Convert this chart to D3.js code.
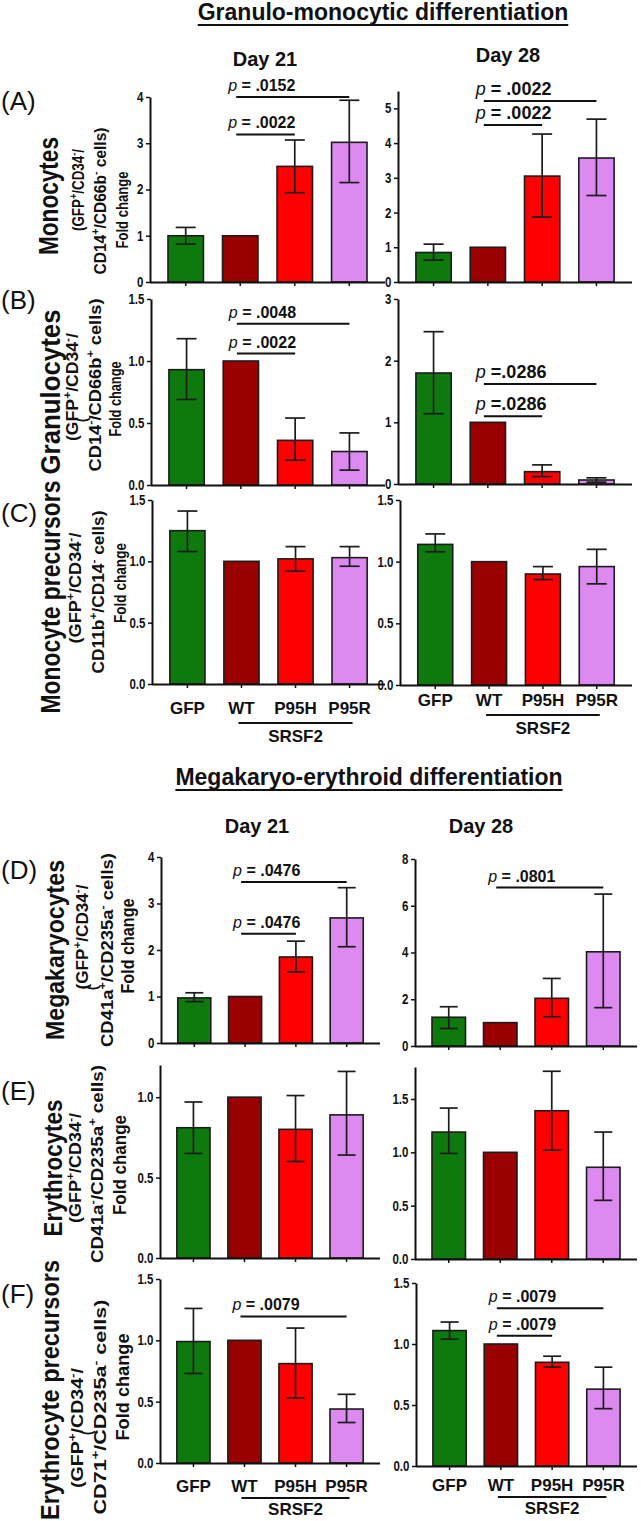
<!DOCTYPE html>
<html><head><meta charset="utf-8">
<script src="https://cdn.jsdelivr.net/npm/d3@7"></script>
<style>
html,body{margin:0;padding:0;background:#fff;}
svg{display:block;}
text{font-family:"Liberation Sans",Arial,Helvetica,sans-serif;fill:#111;}
</style></head><body>
<svg id="chart" width="641" height="1521"></svg>
<script>
// ---------- data ----------
const categories = ["GFP", "WT", "P95H", "P95R"];
const barColors = ["#0e7a0e", "#9b0000", "#ff0000", "#dc8af0"];
const groupLabel = "SRSF2";
const groupMembers = ["WT", "P95R"];
const sectionTitles = ["Granulo-monocytic differentiation", "Megakaryo-erythroid differentiation"];
const dayLabels = ["Day 21", "Day 28"];
const panelLetters = ["(A)", "(B)", "(C)", "(D)", "(E)", "(F)"];

// (A) Monocytes
const monoD21Mean = [1.00, 1.00, 2.50, 3.02];
const monoD21Lo   = [0.82, null, 1.93, 2.15];
const monoD21Hi   = [1.18, null, 3.07, 3.93];
const monoD28Mean = [0.85, 1.00, 3.05, 3.57];
const monoD28Lo   = [0.63, null, 1.87, 2.49];
const monoD28Hi   = [1.09, null, 4.26, 4.69];
// (B) Granulocytes
const granD21Mean = [0.93, 1.00, 0.36, 0.27];
const granD21Lo   = [0.69, null, 0.20, 0.12];
const granD21Hi   = [1.18, null, 0.54, 0.42];
const granD28Mean = [1.80, 1.00, 0.20, 0.065];
const granD28Lo   = [1.14, null, 0.12, 0.03];
const granD28Hi   = [2.47, null, 0.31, 0.10];
// (C) Monocyte precursors
const monoPreD21Mean = [1.25, 1.00, 1.02, 1.03];
const monoPreD21Lo   = [1.08, null, 0.92, 0.96];
const monoPreD21Hi   = [1.41, null, 1.12, 1.12];
const monoPreD28Mean = [1.14, 1.00, 0.90, 0.96];
const monoPreD28Lo   = [1.08, null, 0.855, 0.82];
const monoPreD28Hi   = [1.225, null, 0.96, 1.10];
// (D) Megakaryocytes
const megaD21Mean = [0.97, 1.00, 1.85, 2.69];
const megaD21Lo   = [0.89, null, 1.53, 2.07];
const megaD21Hi   = [1.08, null, 2.19, 3.34];
const megaD28Mean = [1.23, 1.00, 2.04, 4.03];
const megaD28Lo   = [0.75, null, 1.25, 1.64];
const megaD28Hi   = [1.68, null, 2.89, 6.50];
// (E) Erythrocytes
const eryD21Mean = [0.81, 1.00, 0.80, 0.89];
const eryD21Lo   = [0.65, null, 0.60, 0.64];
const eryD21Hi   = [0.97, null, 1.01, 1.16];
const eryD28Mean = [1.19, 1.00, 1.39, 0.86];
const eryD28Lo   = [0.99, null, 1.02, 0.55];
const eryD28Hi   = [1.415, null, 1.76, 1.19];
// (F) Erythrocyte precursors
const eryPreD21Mean = [0.99, 1.00, 0.81, 0.44];
const eryPreD21Lo   = [0.73, null, 0.53, 0.33];
const eryPreD21Hi   = [1.26, null, 1.10, 0.56];
const eryPreD28Mean = [1.11, 1.00, 0.85, 0.63];
const eryPreD28Lo   = [1.04, null, 0.81, 0.47];
const eryPreD28Hi   = [1.18, null, 0.90, 0.81];

// y-axis ticks
const ticksInt4 = [0, 1, 2, 3, 4];
const ticksInt5 = [0, 1, 2, 3, 4, 5];
const ticksInt3 = [0, 1, 2, 3];
const ticksHalf15 = [0, 0.5, 1.0, 1.5];
const ticksHalf10 = [0, 0.5, 1.0];
const ticksEven8 = [0, 2, 4, 6, 8];

// p-value annotations: [from, to, height (data units), text]
const monoD21P = [["WT", "P95R", 4.00, " = .0152"], ["WT", "P95H", 3.19, " = .0022"]];
const monoD28P = [["WT", "P95R", 5.21, " = .0022"], ["WT", "P95H", 4.52, " = .0022"]];
const granD21P = [["WT", "P95R", 1.30, " = .0048"], ["WT", "P95H", 1.06, " = .0022"]];
const granD28P = [["WT", "P95R", 1.62, " =.0286"], ["WT", "P95H", 1.10, " =.0286"]];
const megaD21P = [["WT", "P95R", 3.46, " = .0476"], ["WT", "P95H", 2.35, " = .0476"]];
const megaD28P = [["WT", "P95R", 6.78, " = .0801"]];
const eryPreD21P = [["WT", "P95R", 1.195, " = .0079"]];
const eryPreD28P = [["WT", "P95R", 1.294, " = .0079"], ["WT", "P95H", 1.067, " = .0079"]];

// y-axis title lines per row
const yTitles = [
  ["Monocytes", "(GFP^{+}/CD34^{-}/", "CD14^{+}/CD66b^{-} cells)", "Fold change"],
  ["Granulocytes", "(GFP^{+}/CD34^{-}/", "(", "CD14^{-}/CD66b^{+} cells)", "Fold change"],
  ["Monocyte precursors", "(GFP^{+}/CD34^{-}/", "CD11b^{+}/CD14^{-} cells)", "Fold change"],
  ["Megakaryocytes", "(GFP^{+}/CD34^{-}/", "(", "CD41a^{+}/CD235a^{-} cells)", "Fold change"],
  ["Erythrocytes", "(GFP^{+}/CD34^{-}/", "CD41a^{-}/CD235a^{+} cells)", "Fold change"],
  ["Erythrocyte precursors", "(GFP^{+}/CD34^{-}/", "(", "CD71^{+}/CD235a^{-} cells)", "Fold change"]
];

// ---------- layout ----------
const svg = d3.select("#chart");

const panels = [
  {mean: monoD21Mean, lo: monoD21Lo, hi: monoD21Hi, max: 4, ticks: ticksInt4, fmt: "d", p: monoD21P,
   x0: 150, x1: 385, y0: 282, y1: 97, pfs: 16, cap: 20},
  {mean: monoD28Mean, lo: monoD28Lo, hi: monoD28Hi, max: 5.5, ticks: ticksInt5, fmt: "d", p: monoD28P,
   x0: 398, x1: 632, y0: 282, y1: 91, pfs: 18, cap: 20},
  {mean: granD21Mean, lo: granD21Lo, hi: granD21Hi, max: 1.5, ticks: ticksHalf15, fmt: ".1f", p: granD21P,
   x0: 151, x1: 385, y0: 485, y1: 299, pfs: 16, cap: 20},
  {mean: granD28Mean, lo: granD28Lo, hi: granD28Hi, max: 3, ticks: ticksInt3, fmt: "d", p: granD28P,
   x0: 398, x1: 632, y0: 484, y1: 299, pfs: 18, cap: 20},
  {mean: monoPreD21Mean, lo: monoPreD21Lo, hi: monoPreD21Hi, max: 1.5, ticks: ticksHalf15, fmt: ".1f", p: [],
   x0: 152, x1: 385, y0: 684, y1: 500, pfs: 16, cap: 20, labels: {pad: 14, line: 39, text: 58}},
  {mean: monoPreD28Mean, lo: monoPreD28Lo, hi: monoPreD28Hi, max: 1.5, ticks: ticksHalf15, fmt: ".1f", p: [],
   x0: 400, x1: 632, y0: 685, y1: 500, pfs: 16, cap: 20, labels: {pad: 5, line: 30, text: 49}},
  {mean: megaD21Mean, lo: megaD21Lo, hi: megaD21Hi, max: 4, ticks: ticksInt4, fmt: "d", p: megaD21P,
   x0: 161, x1: 380, y0: 1043, y1: 857, pfs: 16, cap: 18},
  {mean: megaD28Mean, lo: megaD28Lo, hi: megaD28Hi, max: 8, ticks: ticksEven8, fmt: "d", p: megaD28P,
   x0: 415, x1: 637, y0: 1046, y1: 859, pfs: 16, cap: 18},
  {mean: eryD21Mean, lo: eryD21Lo, hi: eryD21Hi, max: 1.2, ticks: ticksHalf10, fmt: ".1f", p: [],
   x0: 160, x1: 380, y0: 1258, y1: 1065, pfs: 16, cap: 18},
  {mean: eryD28Mean, lo: eryD28Lo, hi: eryD28Hi, max: 1.8, ticks: ticksHalf15, fmt: ".1f", p: [],
   x0: 415, x1: 637, y0: 1259, y1: 1067, pfs: 16, cap: 18},
  {mean: eryPreD21Mean, lo: eryPreD21Lo, hi: eryPreD21Hi, max: 1.5, ticks: ticksHalf15, fmt: ".1f", p: eryPreD21P,
   x0: 160, x1: 380, y0: 1463, y1: 1279, pfs: 16, cap: 18, labels: {pad: 13, line: 35, text: 52}},
  {mean: eryPreD28Mean, lo: eryPreD28Lo, hi: eryPreD28Hi, max: 1.5, ticks: ticksHalf15, fmt: ".1f", p: eryPreD28P,
   x0: 416, x1: 637, y0: 1466, y1: 1283, pfs: 16, cap: 18, labels: {pad: 9, line: 31, text: 48}}
];

// rotated title line positions: [x center, y center, font size, length]
const yTitleLayout = [
  [[48, 196, 28, 118], [78, 190, 17, 82], [100, 201, 17, 147], [122, 210, 17, 77]],
  [[50, 392, 27, 165], [72, 387, 17, 108], [82, 420, 14, 0], [95, 385, 17, 173], [115, 399, 17, 75]],
  [[50, 597, 28, 233], [75, 588, 17, 111], [98, 592, 17, 163], [120, 583, 17, 80]],
  [[55, 950, 26, 180], [82, 937, 17, 105], [92, 988, 14, 0], [107, 950, 17, 194], [128, 946, 18, 95]],
  [[53, 1168, 26, 137], [75, 1168, 17, 110], [97, 1164, 17, 198], [120, 1165, 18, 100]],
  [[50, 1390, 26, 260], [77, 1428, 17, 120], [87, 1433, 14, 0], [100, 1407, 17, 215], [123, 1387, 18, 107]]
];

function addRich(sel, str, fs) {
  const re = /\^\{([^}]*)\}/g;
  let last = 0, m; const segs = [];
  while ((m = re.exec(str))) {
    if (m.index > last) segs.push({t: str.slice(last, m.index)});
    segs.push({t: m[1], sup: true});
    last = re.lastIndex;
  }
  if (last < str.length) segs.push({t: str.slice(last)});
  segs.forEach((s, i) => {
    const ts = sel.append("tspan").text(s.t);
    if (s.sup) ts.attr("font-size", fs * 0.68).attr("dy", -fs * 0.42);
    else if (i > 0 && segs[i - 1].sup) ts.attr("dy", fs * 0.42);
  });
}

function drawPanel(cfg) {
  const x = d3.scaleBand().domain(categories).range([cfg.x0, cfg.x1]).paddingInner(0.35).paddingOuter(0.33);
  const y = d3.scaleLinear().domain([0, cfg.max]).range([cfg.y0, cfg.y1]);
  const bw = x.bandwidth();
  const cx = d => x(d) + bw / 2;
  const g = svg.append("g");

  g.selectAll("rect.bar").data(categories).join("rect").attr("class", "bar")
    .attr("x", d => x(d)).attr("width", bw)
    .attr("y", (d, i) => y(cfg.mean[i]))
    .attr("height", (d, i) => y(0) - y(cfg.mean[i]))
    .attr("fill", (d, i) => barColors[i])
    .attr("stroke", "#1c1c1c").attr("stroke-width", 1.6);

  const errs = categories.map((d, i) => ({d, lo: cfg.lo[i], hi: cfg.hi[i]})).filter(e => e.lo != null);
  const eg = g.append("g").attr("stroke", "#1c1c1c").attr("stroke-width", 1.7);
  eg.selectAll("line.v").data(errs).join("line")
    .attr("x1", e => cx(e.d)).attr("x2", e => cx(e.d)).attr("y1", e => y(e.lo)).attr("y2", e => y(e.hi));
  eg.selectAll("line.t").data(errs).join("line")
    .attr("x1", e => cx(e.d) - cfg.cap / 2).attr("x2", e => cx(e.d) + cfg.cap / 2)
    .attr("y1", e => y(e.hi)).attr("y2", e => y(e.hi));
  eg.selectAll("line.b").data(errs).join("line")
    .attr("x1", e => cx(e.d) - cfg.cap / 2).attr("x2", e => cx(e.d) + cfg.cap / 2)
    .attr("y1", e => y(e.lo)).attr("y2", e => y(e.lo));

  // y axis
  const ya = g.append("g").attr("transform", `translate(${cfg.x0},0)`)
    .call(d3.axisLeft(y).tickValues(cfg.ticks).tickFormat(d3.format(cfg.fmt)).tickSize(4).tickSizeOuter(0).tickPadding(4));
  ya.select(".domain").attr("stroke", "#111").attr("stroke-width", 2);
  ya.selectAll(".tick line").attr("stroke", "#111").attr("stroke-width", 1.5);
  ya.selectAll(".tick text").attr("font-size", 14).attr("font-weight", "bold")
    .attr("transform", "scale(0.82,1)")
    .attr("font-family", "'Liberation Sans',Arial,sans-serif").attr("fill", "#111");

  // x axis
  const lab = cfg.labels;
  const xa = g.append("g").attr("transform", `translate(0,${cfg.y0})`)
    .call(d3.axisBottom(x).tickSize(4).tickSizeOuter(0).tickPadding(lab ? lab.pad : 3).tickFormat(lab ? (d => d) : () => ""));
  xa.select(".domain").attr("stroke", "#111").attr("stroke-width", 2)
    .attr("d", `M${cfg.x0},0.5H${cfg.x1}`);
  xa.selectAll(".tick line").attr("stroke", "#111").attr("stroke-width", 1.5);
  xa.selectAll(".tick text").attr("font-size", 17).attr("font-weight", "bold")
    .attr("font-family", "'Liberation Sans',Arial,sans-serif").attr("fill", "#111");

  if (lab) {
    const ga = cx(groupMembers[0]) - 3, gb = cx(groupMembers[1]) + 3;
    g.append("line").attr("x1", ga).attr("x2", gb).attr("y1", cfg.y0 + lab.line).attr("y2", cfg.y0 + lab.line)
      .attr("stroke", "#111").attr("stroke-width", 1.8);
    g.append("text").attr("x", (ga + gb) / 2).attr("y", cfg.y0 + lab.text).attr("text-anchor", "middle")
      .attr("font-size", 17).attr("font-weight", "bold").text(groupLabel);
  }

  // p-value brackets
  cfg.p.forEach(a => {
    const xa1 = cx(a[0]) - 4, xb1 = cx(a[1]);
    const yy = y(a[2]);
    g.append("line").attr("x1", xa1).attr("x2", xb1).attr("y1", yy).attr("y2", yy)
      .attr("stroke", "#111").attr("stroke-width", 2);
    const t = g.append("text").attr("x", xa1 - 8).attr("y", yy - 6)
      .attr("font-size", cfg.pfs).attr("font-weight", "bold");
    t.append("tspan").attr("font-style", "italic").attr("font-weight", "normal").text("p");
    t.append("tspan").text(a[3]);
  });
}

panels.forEach(drawPanel);

// rotated y titles
yTitles.forEach((lines, r) => {
  lines.forEach((str, k) => {
    const [xc, yc, fs, len] = yTitleLayout[r][k];
    const t = svg.append("text")
      .attr("transform", `translate(${xc + fs * 0.36},${yc}) rotate(-90)`)
      .attr("text-anchor", "middle").attr("font-size", fs).attr("font-weight", "bold");
    if (len > 0) t.attr("textLength", len).attr("lengthAdjust", "spacingAndGlyphs");
    addRich(t, str, fs);
  });
});

// section titles (underlined)
[[383, 20, 25], [369, 785, 790]].forEach((pos, i) => {
  const t = svg.append("text").attr("x", pos[0]).attr("y", pos[1]).attr("text-anchor", "middle")
    .attr("font-size", 23).attr("font-weight", "bold").text(sectionTitles[i]);
  const w = t.node().getComputedTextLength();
  svg.append("line").attr("x1", pos[0] - w / 2).attr("x2", pos[0] + w / 2)
    .attr("y1", pos[2]).attr("y2", pos[2]).attr("stroke", "#111").attr("stroke-width", 2);
});

// day headers
[[265, 66, 0], [508, 62, 1], [257, 833, 0], [481, 833, 1]].forEach(p => {
  svg.append("text").attr("x", p[0]).attr("y", p[1]).attr("text-anchor", "middle")
    .attr("font-size", 20).attr("font-weight", "bold").text(dayLabels[p[2]]);
});

// panel letters
[110, 309, 522, 879, 1100, 1303].forEach((yy, i) => {
  svg.append("text").attr("x", 1).attr("y", yy).attr("font-size", 26).text(panelLetters[i]);
});
</script>
</body></html>
